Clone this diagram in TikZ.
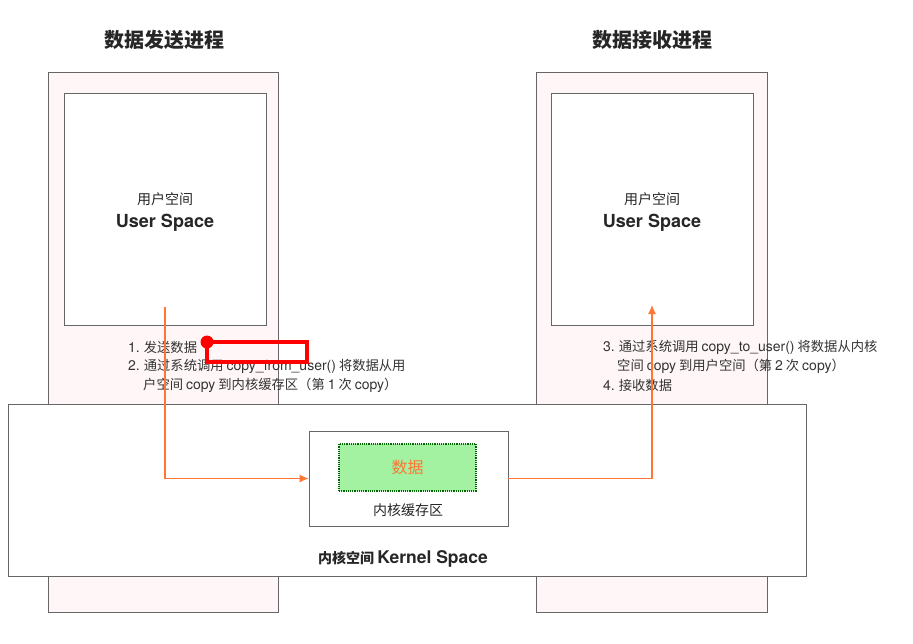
\documentclass[tikz,border=0pt]{standalone}
\usepackage{fontspec}
\setmainfont{Noto Sans CJK SC}
\newfontfamily\lat{TeX Gyre Heros}
\newcommand\la[2]{{\lat\fontsize{#1}{#1}\selectfont #2}}
\usetikzlibrary{arrows.meta}
\begin{document}
\begin{tikzpicture}[x=1pt,y=-1pt,
  outerbox/.style={draw=gray!80!black, line width=0.8pt, fill=pink!12},
  innerbox/.style={draw=gray!80!black, line width=0.8pt, fill=white},
  arr/.style={draw=orange!65!red!80, line width=1.2pt, -{Latex[length=9pt,width=8pt]}},
  txt/.style={anchor=west, inner sep=0pt, font=\fontsize{13.3}{15}\selectfont, text=black!80},
  ttl/.style={font=\fontsize{20}{22}\selectfont\bfseries, text=black!85},
  uslabel/.style={align=center, inner sep=0pt, font=\fontsize{14}{22}\selectfont, text=black!85}]
\useasboundingbox (0,0) rectangle (913,643);
% outer process boxes
\node[outerbox, minimum width=230pt, minimum height=540pt, inner sep=0pt] (lo) at (163,342) {};
\node[outerbox, minimum width=231pt, minimum height=540pt, inner sep=0pt] (ro) at (651.5,342) {};
% inner user-space boxes
\node[innerbox, minimum width=202pt, minimum height=232pt, inner sep=0pt] (li) at (165,209) {};
\node[innerbox, minimum width=202pt, minimum height=232pt, inner sep=0pt] (ri) at (652,209) {};
\node[uslabel] (lil) at (165,212) {用户空间\\[1pt]{\bfseries\la{18}{User Space}}};
\node[uslabel] (ril) at (652,212) {用户空间\\[1pt]{\bfseries\la{18}{User Space}}};
% titles
\node[ttl] (lt) at (164,40) {数据发送进程};
\node[ttl] (rt) at (652,40) {数据接收进程};
% step texts
\node[txt] (t1) at (128,347) {\la{14}{1.} 发送数据};
\node[txt] (t2) at (128,366) {\la{14}{2.} 通过系统调用 \la{14}{copy\_from\_user()} 将数据从用};
\node[txt] (t3) at (143,385) {户空间 \la{14}{copy} 到内核缓存区（第 \la{14}{1} 次 \la{14}{copy}）};
\node[txt] (t4) at (603,347) {\la{14}{3.} 通过系统调用 \la{14}{copy\_to\_user()} 将数据从内核};
\node[txt] (t5) at (617,366) {空间 \la{14}{copy} 到用户空间（第 \la{14}{2} 次 \la{14}{copy}）};
\node[txt] (t6) at (603,385) {\la{14}{4.} 接收数据};
% kernel box
\node[innerbox, minimum width=798pt, minimum height=172pt, inner sep=0pt] (k) at (407,490) {};
\node[font=\fontsize{14}{16}\selectfont\bfseries, text=black!85] (kl) at (403,559) {内核空间 \la{17.5}{Kernel Space}};
% buffer
\node[innerbox, minimum width=199pt, minimum height=95pt, inner sep=0pt] (buf) at (408.5,478.5) {};
\node[draw=green!40!black, densely dotted, line width=1.2pt, fill=green!35!white!90!gray,
  minimum width=137pt, minimum height=47pt, inner sep=0pt,
  font=\fontsize{16}{18}\selectfont, text=orange!65!red!80] (d) at (407.5,467.5) {数据};
\node[font=\fontsize{14}{16}\selectfont, text=black!85] (bl) at (408,510) {内核缓存区};
% connectors
\coordinate (s1) at (165,307);
\coordinate (e2) at (652,305);
\draw[arr] (s1) |- (buf.west);
\draw[arr] (buf.east) -| (e2);
% red annotation
\coordinate (ra) at (207,342);
\coordinate (rb) at (307,362);
\draw[red, line width=4.5pt] (ra) rectangle (rb);
\fill[red] (ra) circle (6.5pt);
\end{tikzpicture}
\end{document}
